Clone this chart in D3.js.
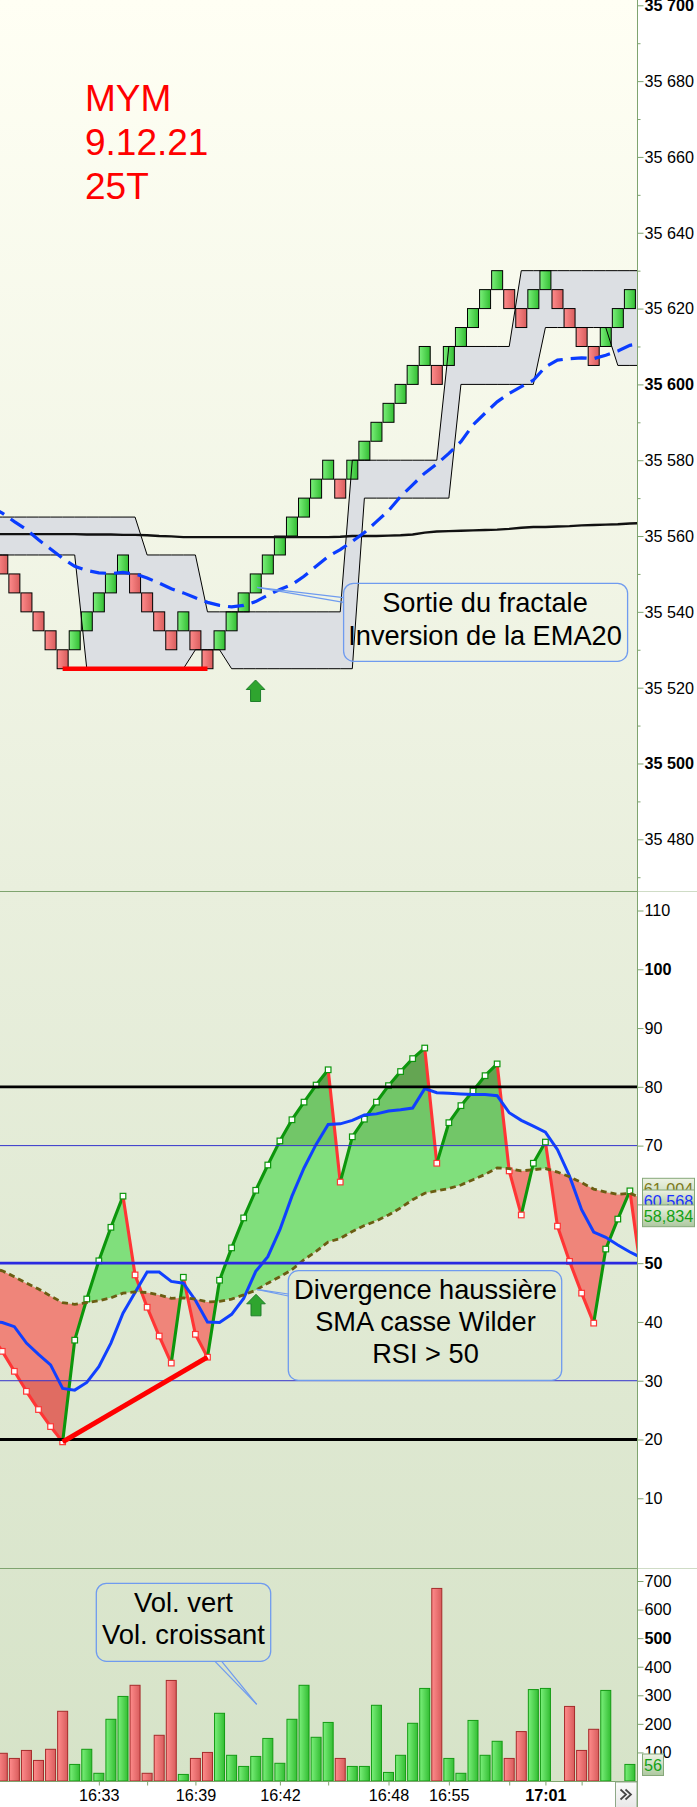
<!DOCTYPE html>
<html><head><meta charset="utf-8">
<script src="https://cdn.jsdelivr.net/npm/d3@7"></script>
<style>
html,body{margin:0;padding:0;background:#fff;overflow:hidden}
svg{display:block}
text{font-family:"Liberation Sans",Arial,sans-serif}
.ax text{font-size:16.2px;fill:#000}
.ax .domain{display:none}
.ax line{stroke:#7fa46f}
</style></head><body>
<script>
// ---------- data ----------
const brickOpen =[35555,35550,35545,35540,35535,35530,35530,35535,35540,35545,35550,35550,35545,35540,35535,35535,35535,35530,35530,35535,35540,35545,35550,35555,35560,35565,35570,35575,35575,35575,35580,35585,35590,35595,35600,35605,35605,35605,35610,35615,35620,35625,35625,35620,35620,35625,35625,35620,35615,35610,35610,35615,35620];
const brickClose=[35550,35545,35540,35535,35530,35525,35535,35540,35545,35550,35555,35545,35540,35535,35530,35540,35530,35525,35535,35540,35545,35550,35555,35560,35565,35570,35575,35580,35570,35580,35585,35590,35595,35600,35605,35610,35600,35610,35615,35620,35625,35630,35620,35615,35625,35630,35620,35615,35610,35605,35615,35620,35625];
// line series run from bar -1 to bar 53 (they leave the plot on both sides)
const upperBand=[35565,35565,35565,35565,35565,35565,35565,35565,35565,35565,35565,35565,35565,35555,35555,35555,35555,35555,35540,35540,35540,35540,35540,35540,35540,35540,35540,35540,35540,35540,35580,35580,35580,35580,35580,35580,35580,35580,35610,35610,35610,35610,35610,35610,35630,35630,35630,35630,35630,35630,35630,35630,35630,35630,35630];
const lowerBand=[35555,35555,35555,35555,35555,35555,35555,35555,35525,35525,35525,35525,35525,35525,35525,35525,35525,35530,35530,35530,35525,35525,35525,35525,35525,35525,35525,35525,35525,35525,35525,35570,35570,35570,35570,35570,35570,35570,35570,35600,35600,35600,35600,35600,35600,35600,35615,35615,35615,35615,35615,35615,35605,35605,35605];
const sma200=[35560.5,35560.5,35560.5,35560.5,35560.5,35560.5,35560.5,35560.5,35560.4,35560.4,35560.4,35560.3,35560.3,35560.2,35560.0,35559.9,35559.7,35559.7,35559.7,35559.7,35559.7,35559.7,35559.7,35559.7,35559.7,35559.7,35559.7,35559.7,35559.7,35559.8,35560.0,35560.0,35560.0,35560.1,35560.2,35560.4,35560.9,35561.2,35561.3,35561.4,35561.5,35561.6,35561.7,35561.9,35562.2,35562.4,35562.4,35562.5,35562.6,35562.8,35562.9,35563.0,35563.1,35563.3,35563.4];
const ema20=[35567.8,35566.05,35563.8,35561.7,35559.0,35556.6,35554.1,35552.0,35550.9,35550.3,35550.1,35550.4,35550.0,35548.9,35547.6,35546.1,35545.0,35543.7,35542.5,35541.7,35541.3,35541.7,35542.7,35544.4,35545.9,35547.2,35549.4,35552.0,35554.6,35556.4,35558.6,35560.9,35563.8,35566.7,35570.4,35573.5,35576.6,35579.0,35581.8,35584.9,35589.3,35592.4,35595.4,35597.6,35599.4,35601.1,35604.6,35606.4,35606.8,35607.0,35606.8,35607.7,35608.8,35610.3,35610.9];
const rsi=[38,35.0,31.6,28.2,25.1,22.2,19.6,36.9,43.9,50.4,56.1,61.4,48.0,42.5,37.6,33.0,47.6,37.9,34.0,47.1,52.6,57.7,62.4,66.7,70.8,74.4,77.4,80.3,82.9,63.8,71.5,74.5,77.4,80.2,82.6,84.8,86.6,67.0,73.9,76.8,79.3,81.9,83.9,65.7,58.2,67.0,70.6,56.3,50.3,44.9,39.8,52.4,57.5,62.3,47.3];
const rsiSma=[40.2,39.9,39.2,36.4,34.5,32.7,28.7,28.4,29.7,32.4,36.4,41.5,45.0,48.5,48.5,46.9,46.6,43.7,40.0,39.9,41.3,44.0,48.6,51.1,55.7,61.4,66.2,70.2,73.6,73.7,74.3,75.2,75.4,75.9,76.1,76.4,79.7,79.0,78.9,78.8,78.7,78.7,78.5,75.6,74.3,73.3,72.3,69.3,64.8,59.1,55.3,54.4,53.1,51.9,50.9];
const rsiWilder=[49.2,48.7,47.7,46.6,45.6,44.4,43.3,43.0,43.3,43.6,44.1,44.9,45.1,45.0,44.6,44.0,44.1,43.9,43.4,43.5,43.9,44.6,45.4,46.6,47.7,48.9,50.6,52.0,53.6,54.2,55.4,56.4,57.2,58.2,59.4,60.8,61.9,62.3,62.7,63.3,64.2,65.1,66.2,66.1,65.7,65.9,66.1,65.5,64.7,63.7,62.6,62.1,61.7,61.9,61.0];
const volume=[97,79,107,72,111,244,58,111,27,216,296,335,27,160,352,23,79,100,237,90,51,86,149,62,216,335,153,205,79,51,51,265,30,90,202,324,674,79,27,212,90,139,79,173,320,324,0,261,107,181,317,0,58];
const priceTicks=[35480,35500,35520,35540,35560,35580,35600,35620,35640,35660,35680,35700];
const priceMinorTicks=[35470,35490,35510,35530,35550,35570,35590,35610,35630,35650,35670,35690];
const priceBold=[35500,35600,35700];
const rsiTicks=[10,20,30,40,50,60,70,80,90,100,110];
const rsiBold=[50,100];
const volumeTicks=[100,200,300,400,500,600,700];
const volumeBold=[500];
const timeBars=[8,12,16,23,27,32,37,42,45,48];
const timeLabels=["16:33","","16:39","16:42","","16:48","16:55","","17:01",""];
const heavyLevels=[20,80], lightLevels=[30,70], midLevel=50;
const lastValues=["61,004","60,568","58,834"];
const lastVolume="56";
const titleLines=["MYM","9.12.21","25T"];
const note1=["Sortie du fractale","Inversion de la EMA20"];
const note2=["Divergence haussière","SMA casse Wilder","RSI > 50"];
const note3=["Vol. vert","Vol. croissant"];
const supportBars=[5,17], supportPrice=35525;
const rsiDivBars=[5,17];
const signalBar=21;

// ---------- layout ----------
const W=697,H=1807,plotR=637,base=1781;
const bars=d3.range(0,53), lineBars=d3.range(-1,54);
const x=d3.scaleLinear().domain([0,52]).range([2.3,629.9]);
const yP=d3.scaleLinear().domain([35480,35700]).range([839.3,5.3]);
const yR=d3.scaleLinear().domain([20,110]).range([1439.5,910.5]);
const yV=d3.scaleLinear().domain([0,700]).range([1781,1581]);

const svg=d3.select("body").append("svg").attr("width",W).attr("height",H).attr("viewBox",`0 0 ${W} ${H}`);
const defs=svg.append("defs");
const grad=(id,stops,vertical)=>{const g=defs.append("linearGradient").attr("id",id).attr("x1",0).attr("y1",0).attr("x2",vertical?0:1).attr("y2",vertical?1:0);
  stops.forEach(([o,c])=>g.append("stop").attr("offset",o).attr("stop-color",c));};
grad("bg",[[0,"#fffff4"],[.5,"#e9efdd"],[1,"#d6e3c8"]],true);
grad("gUp",[[0,"#7bf07b"],[1,"#32bd32"]]);
grad("gDn",[[0,"#ff8c8c"],[1,"#d85c5c"]]);
grad("lab",[[0,"#eef3e4"],[1,"#adc8a0"]],true);
grad("btn",[[0,"#fbfbfb"],[1,"#e8e8e8"]],true);
defs.append("clipPath").attr("id","plot").append("rect").attr("x",0).attr("y",0).attr("width",plotR).attr("height",base);

svg.append("rect").attr("width",plotR).attr("height",base).attr("fill","url(#bg)");

// ---------- price panel ----------
const price=svg.append("g").attr("clip-path","url(#plot)");
const bandArea=d3.area().x((d,k)=>x(lineBars[k])).y0((d,k)=>yP(lowerBand[k])).y1((d,k)=>yP(upperBand[k]));
const line=(y)=>d3.line().x((d,k)=>x(lineBars[k])).y(d=>y(d));
price.append("path").attr("d",bandArea(upperBand)).attr("fill","#dcdfe3");
price.selectAll("rect.brick").data(bars).join("rect").attr("class","brick")
  .attr("x",i=>x(i)-5.5).attr("width",11)
  .attr("y",i=>yP(Math.max(brickOpen[i],brickClose[i])))
  .attr("height",i=>Math.abs(yP(brickOpen[i])-yP(brickClose[i])))
  .attr("fill",i=>brickClose[i]>brickOpen[i]?"url(#gUp)":"url(#gDn)")
  .attr("stroke","#000").attr("stroke-width",1);
price.append("path").attr("d",line(yP)(upperBand)).attr("fill","none").attr("stroke","#000").attr("stroke-width",1);
price.append("path").attr("d",line(yP)(lowerBand)).attr("fill","none").attr("stroke","#000").attr("stroke-width",1);
price.append("path").attr("d",line(yP)(sma200)).attr("fill","none").attr("stroke","#111").attr("stroke-width",2.4);
price.append("path").attr("d",line(yP)(ema20)).attr("fill","none").attr("stroke","#0a3cff").attr("stroke-width",3.2).attr("stroke-dasharray","16,8");
price.append("line").attr("x1",x(supportBars[0])).attr("x2",x(supportBars[1])).attr("y1",yP(supportPrice)).attr("y2",yP(supportPrice)).attr("stroke","#ff0000").attr("stroke-width",4.6);

titleLines.forEach((t,k)=>svg.append("text").text(t).attr("x",85).attr("y",[110.7,154.5,199][k]).attr("fill","#ff0000").attr("font-size",37));

const arrow=(cx,top)=>svg.append("path")
  .attr("d",`M${cx},${top}L${cx+9.3},${top+9.5}H${cx+5}V${top+21.5}H${cx-5}V${top+9.5}H${cx-9.3}Z`)
  .attr("fill","#2fa52f").attr("stroke","#1f7f2a").attr("stroke-width",1);
arrow(x(signalBar)-.2,680);

// ---------- RSI panel ----------
const rsiG=svg.append("g").attr("clip-path","url(#plot)");
const xL=(d,k)=>x(lineBars[k]);
defs.append("clipPath").attr("id","aboveW").append("path").attr("d",d3.area().x(xL).y0(891).y1(d=>yR(d))(rsiWilder));
defs.append("clipPath").attr("id","belowW").append("path").attr("d",d3.area().x(xL).y0(1568).y1(d=>yR(d))(rsiWilder));
const fillPath=d3.area().x(xL).y0((d,k)=>yR(rsiWilder[k])).y1(d=>yR(d))(rsi);
const addClipBand=(id,a,b)=>defs.append("clipPath").attr("id",id).append("rect").attr("x",0).attr("width",plotR).attr("y",a).attr("height",b-a);
addClipBand("gt70",891,yR(70)); addClipBand("gt80",891,yR(80)); addClipBand("lt30",yR(30),1568);
const up=rsiG.append("g").attr("clip-path","url(#aboveW)");
const dn=rsiG.append("g").attr("clip-path","url(#belowW)");
up.append("path").attr("d",fillPath).attr("fill","#80df7c");
up.append("g").attr("clip-path","url(#gt70)").append("path").attr("d",fillPath).attr("fill","#72c668");
up.append("g").attr("clip-path","url(#gt80)").append("path").attr("d",fillPath).attr("fill","#64a552");
dn.append("path").attr("d",fillPath).attr("fill","#ef857a");
dn.append("g").attr("clip-path","url(#lt30)").append("path").attr("d",fillPath).attr("fill","#e06c62");

const isUp=k=>rsi[k]>=rsi[k-1];
const segs=d3.range(1,lineBars.length);
rsiG.selectAll("line.seg").data(segs).join("line").attr("class","seg")
  .attr("x1",k=>x(lineBars[k-1])).attr("x2",k=>x(lineBars[k]))
  .attr("y1",k=>yR(rsi[k-1])).attr("y2",k=>yR(rsi[k]))
  .attr("stroke",k=>isUp(k)?"#0c960c":"#ff3535").attr("stroke-width",3.1).attr("stroke-linecap","round");
rsiG.selectAll("rect.mk").data(segs).join("rect").attr("class","mk")
  .attr("x",k=>x(lineBars[k])-2.8).attr("y",k=>yR(rsi[k])-2.8).attr("width",5.6).attr("height",5.6)
  .attr("fill","#fff").attr("stroke",k=>isUp(k)?"#0c960c":"#ff3535").attr("stroke-width",1.2);
rsiG.append("path").attr("d",line(yR)(rsiSma)).attr("fill","none").attr("stroke","#1040ff").attr("stroke-width",3);
rsiG.append("path").attr("d",line(yR)(rsiWilder)).attr("fill","none").attr("stroke","#6b5d12").attr("stroke-width",2.8).attr("stroke-dasharray","6,4");
heavyLevels.forEach(v=>rsiG.append("line").attr("x1",0).attr("x2",plotR).attr("y1",yR(v)).attr("y2",yR(v)).attr("stroke","#000").attr("stroke-width",2.8));
lightLevels.forEach(v=>rsiG.append("line").attr("x1",0).attr("x2",plotR).attr("y1",yR(v)).attr("y2",yR(v)).attr("stroke","#3232cc").attr("stroke-width",1));
rsiG.append("line").attr("x1",0).attr("x2",plotR).attr("y1",yR(midLevel)).attr("y2",yR(midLevel)).attr("stroke","#2a2ae0").attr("stroke-width",2.6);
rsiG.append("line").attr("x1",x(rsiDivBars[0])).attr("x2",x(rsiDivBars[1])).attr("y1",yR(rsi[rsiDivBars[0]+1])).attr("y2",yR(rsi[rsiDivBars[1]+1])).attr("stroke","#ff0000").attr("stroke-width",5);
arrow(256,1294.3);

// ---------- volume panel ----------
const volG=svg.append("g").attr("clip-path","url(#plot)");
volG.selectAll("rect.vol").data(bars.filter(i=>volume[i]>0)).join("rect").attr("class","vol")
  .attr("x",i=>x(i)-5).attr("width",10)
  .attr("y",i=>yV(volume[i])).attr("height",i=>base-yV(volume[i]))
  .attr("fill",i=>brickClose[i]>brickOpen[i]?"url(#gUp)":"url(#gDn)")
  .attr("stroke",i=>brickClose[i]>brickOpen[i]?"#139a13":"#a52a2a").attr("stroke-width",1);

// ---------- separators / frame ----------
[891.5,1568.5].forEach(y=>{
  svg.append("line").attr("x1",0).attr("x2",plotR).attr("y1",y).attr("y2",y).attr("stroke","#7fa46f").attr("stroke-width",1);
  svg.append("line").attr("x1",plotR).attr("x2",W).attr("y1",y).attr("y2",y).attr("stroke","#cfdcc6").attr("stroke-width",1);
});
svg.append("line").attr("x1",0).attr("x2",plotR).attr("y1",base+.5).attr("y2",base+.5).attr("stroke","#7fa46f");
svg.append("line").attr("x1",plotR+.5).attr("x2",plotR+.5).attr("y1",0).attr("y2",H).attr("stroke","#7fa46f");

// ---------- axes ----------
const priceFmt=v=>String(v).slice(0,2)+" "+String(v).slice(2);
const axis=(scale,ticks,fmt,bold,minor)=>{
  const g=svg.append("g").attr("class","ax").attr("transform",`translate(${plotR+.5},0)`)
    .call(d3.axisRight(scale).tickValues(ticks).tickFormat(fmt).tickSizeOuter(0).tickSize(6).tickPadding(1));
  g.selectAll(".tick text").attr("font-weight",d=>bold.includes(d)?"bold":null).attr("dy","0.33em");
  if(minor) svg.append("g").attr("class","ax").attr("transform",`translate(${plotR+.5},0)`)
    .call(d3.axisRight(scale).tickValues(minor).tickFormat("").tickSizeOuter(0).tickSize(3));
};
axis(yP,priceTicks,priceFmt,priceBold,priceMinorTicks);
axis(yR,rsiTicks,d=>d,rsiBold);
axis(yV,volumeTicks,d=>d,volumeBold);

const xa=svg.append("g").attr("class","ax").attr("transform",`translate(0,${base+.5})`)
  .call(d3.axisBottom(x).tickValues(timeBars).tickFormat((d,k)=>timeLabels[k]).tickSizeOuter(0).tickSize(4).tickPadding(3));
xa.selectAll(".tick text").attr("font-weight",(d,k)=>timeLabels[k]==="17:01"?"bold":null).attr("y",19).attr("dy",0);
// scroll button
svg.append("rect").attr("x",615.5).attr("y",base+1).attr("width",21.5).attr("height",H-base).attr("fill","url(#btn)").attr("stroke","#8fa888");
[620.5,625.5].forEach(cx=>svg.append("path").attr("d",`M${cx},1789.5L${cx+5.5},1794.5L${cx},1799.5`).attr("fill","none").attr("stroke","#444").attr("stroke-width",1.7));

// ---------- last value labels ----------
const labelBoxes=[[1178.3,30,"#7d7a1a",1195.3],[1190,16,"#1b32ff",1207],[1205,21.7,"#15a015",1222]];
labelBoxes.forEach(([y,h,c,b],k)=>{
  const g=svg.append("g");
  g.append("clipPath").attr("id","lc"+k).append("rect").attr("x",642).attr("y",y).attr("width",54).attr("height",h);
  g.append("rect").attr("x",642.5).attr("y",y).attr("width",52).attr("height",h).attr("fill","url(#lab)").attr("stroke","#86a87a");
  g.append("text").text(lastValues[k]).attr("clip-path",`url(#lc${k})`).attr("x",668.5).attr("y",b).attr("text-anchor","middle").attr("font-size",16.2).attr("fill",c);
});
svg.append("rect").attr("x",642.5).attr("y",1754).attr("width",21).attr("height",21.5).attr("fill","url(#lab)").attr("stroke","#86a87a");
svg.append("text").text(lastVolume).attr("x",653).attr("y",1770.7).attr("text-anchor","middle").attr("font-size",16.2).attr("fill","#15a015");

// ---------- callouts ----------
const callout=(x0,y0,x1,y1,ptr,lines,cx,bases,fs)=>{
  const g=svg.append("g");
  g.append("rect").attr("x",x0).attr("y",y0).attr("width",x1-x0).attr("height",y1-y0).attr("rx",10).attr("fill","none").attr("stroke","#6f9bef").attr("stroke-width",1.3);
  ptr.forEach(p=>g.append("line").attr("x1",p[0]).attr("y1",p[1]).attr("x2",p[2]).attr("y2",p[3]).attr("stroke","#6f9bef").attr("stroke-width",1.2));
  lines.forEach((t,k)=>g.append("text").text(t).attr("x",cx).attr("y",bases[k]).attr("text-anchor","middle").attr("font-size",fs).attr("fill","#000"));
};
callout(343.6,583.3,627.6,661.3,[[257,587.3,343.6,597.7],[257,587.3,343.6,602.3]],note1,485,[612.3,644.7],27.2);
callout(288.3,1270.7,561.7,1380.3,[[256.7,1289.3,288.3,1294],[256.7,1289.3,288.3,1296]],note2,425.5,[1299,1331,1362.7],27.2);
callout(96.3,1583.3,270.7,1661.3,[[215,1661.3,256.7,1704.3],[221.7,1661.3,256.7,1704.3]],note3,183.5,[1612.3,1644.3],27.4);
</script>
</body></html>
